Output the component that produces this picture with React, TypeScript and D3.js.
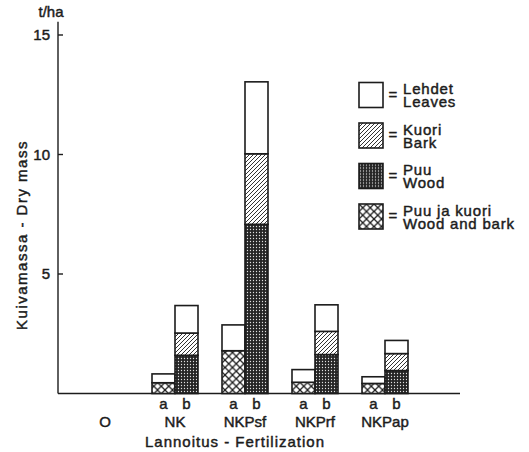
import React, { useEffect, useRef } from 'react'
import * as d3 from 'd3'

// fertilization groups, a / b sub-bars
const groups = ["O", "NK", "NKPsf", "NKPrf", "NKPap"]
const subLabels = ["a", "b"]
// a bars: wood and bark together + leaves (t/ha)
const woodBarkA = [0, 0.45, 1.79, 0.47, 0.42]
const leavesA = [0, 0.37, 1.08, 0.53, 0.28]
// b bars: wood, bark, leaves (t/ha)
const woodB = [0, 1.6, 7.08, 1.63, 0.96]
const barkB = [0, 0.93, 2.95, 0.97, 0.71]
const leavesB = [0, 1.15, 3.01, 1.11, 0.55]
const yTicks = [5, 10, 15]

const legendItems = [
    { key: "leaves", l1: "Lehdet", l2: "Leaves" },
    { key: "bark", l1: "Kuori", l2: "Bark" },
    { key: "wood", l1: "Puu", l2: "Wood" },
    { key: "woodbark", l1: "Puu ja kuori", l2: "Wood and bark" },
]

const ink = "#1c1c1c"
const font = "'Liberation Sans', Arial, sans-serif"

function fillFor(key: string) {
    if (key === "leaves") return "#fff"
    return "url(#p-" + key + ")"
}

function drawChart(el: SVGSVGElement) {
    const svg = d3.select(el)
    svg.selectAll("*").remove()

    const defs = svg.append("defs")
    const hatch = defs.append("pattern").attr("id", "p-bark")
        .attr("patternUnits", "userSpaceOnUse").attr("width", 4).attr("height", 4)
    hatch.append("rect").attr("width", 4).attr("height", 4).attr("fill", "#fff")
    hatch.append("path").attr("d", "M-1,1 l2,-2 M0,4 l4,-4 M3,5 l2,-2")
        .attr("stroke", ink).attr("stroke-width", 0.9)

    const dots = defs.append("pattern").attr("id", "p-wood")
        .attr("patternUnits", "userSpaceOnUse").attr("width", 3).attr("height", 3)
    dots.append("rect").attr("width", 3).attr("height", 3).attr("fill", "#252525")
    dots.append("circle").attr("cx", 1.5).attr("cy", 1.5).attr("r", 0.65).attr("fill", "#e0e0e0")

    const cs = 7.5
    const cross = defs.append("pattern").attr("id", "p-woodbark")
        .attr("patternUnits", "userSpaceOnUse").attr("width", cs).attr("height", cs)
    cross.append("rect").attr("width", cs).attr("height", cs).attr("fill", "#fff")
    cross.append("path").attr("d", `M0,0 L${cs},${cs} M${cs},0 L0,${cs}`)
        .attr("stroke", ink).attr("stroke-width", 1.3)

    const x = d3.scalePoint<string>().domain(groups).range([105, 385])
    const y = d3.scaleLinear().domain([0, 15]).range([393.5, 35])
    const barW = 23

    // axes
    svg.append("line").attr("x1", 58).attr("x2", 58).attr("y1", y(15.55)).attr("y2", y(0))
        .attr("stroke", ink).attr("stroke-width", 1.4)
    svg.append("line").attr("x1", 58).attr("x2", 460).attr("y1", y(0)).attr("y2", y(0))
        .attr("stroke", ink).attr("stroke-width", 1.6)
    const yt = svg.append("g").selectAll("g").data(yTicks).join("g")
        .attr("transform", d => "translate(0," + y(d) + ")")
    yt.append("line").attr("x1", 58).attr("x2", 63).attr("stroke", ink).attr("stroke-width", 1.4)
    yt.append("text").attr("x", 50).attr("dy", "0.36em").attr("text-anchor", "end")
        .attr("font-size", 15).text(d => d)

    // stacked bars
    const segs: { g: string, side: number, key: string, y0: number, y1: number }[] = []
    groups.forEach((g, i) => {
        let acc = 0
        ;[["woodbark", woodBarkA[i]], ["leaves", leavesA[i]]].forEach(([k, v]) => {
            if (+v > 0) segs.push({ g, side: 0, key: k as string, y0: acc, y1: acc + (v as number) })
            acc += v as number
        })
        acc = 0
        ;[["wood", woodB[i]], ["bark", barkB[i]], ["leaves", leavesB[i]]].forEach(([k, v]) => {
            if (+v > 0) segs.push({ g, side: 1, key: k as string, y0: acc, y1: acc + (v as number) })
            acc += v as number
        })
    })
    svg.append("g").selectAll("rect").data(segs).join("rect")
        .attr("x", d => (x(d.g) as number) - barW + d.side * barW)
        .attr("width", barW)
        .attr("y", d => y(d.y1))
        .attr("height", d => y(d.y0) - y(d.y1))
        .attr("fill", d => fillFor(d.key))
        .attr("stroke", ink).attr("stroke-width", 1.6)

    // x labels
    const xl = svg.append("g")
    groups.slice(1).forEach(g => {
        subLabels.forEach((s, j) => {
            xl.append("text").attr("x", (x(g) as number) - barW / 2 + j * barW).attr("y", 409)
                .attr("text-anchor", "middle").attr("font-size", 15).text(s)
        })
    })
    xl.selectAll("text.grp").data(groups).join("text").attr("class", "grp")
        .attr("x", d => x(d) as number).attr("y", 426.5)
        .attr("text-anchor", "middle").attr("font-size", 15).text(d => d)

    svg.append("text").attr("x", 235).attr("y", 447).attr("text-anchor", "middle")
        .attr("font-size", 15).attr("letter-spacing", 1).text("Lannoitus - Fertilization")
    svg.append("text").attr("transform", "translate(27,235) rotate(-90)")
        .attr("text-anchor", "middle").attr("font-size", 15).attr("letter-spacing", 1.5)
        .text("Kuivamassa - Dry mass")
    svg.append("text").attr("x", 51).attr("y", 17).attr("text-anchor", "middle")
        .attr("font-size", 15).text("t/ha")

    // legend
    const lg = svg.append("g").selectAll("g").data(legendItems).join("g")
        .attr("transform", (d, i) => "translate(359," + (82.5 + i * 40.5) + ")")
    lg.append("rect").attr("width", 24).attr("height", 25)
        .attr("fill", d => fillFor(d.key)).attr("stroke", ink).attr("stroke-width", 1.6)
    lg.append("text").attr("x", 34).attr("y", 17).attr("text-anchor", "middle")
        .attr("font-size", 15).text("=")
    const lt = lg.append("text").attr("font-size", 15).attr("letter-spacing", 0.8)
    lt.append("tspan").attr("x", 44).attr("y", 11.5).text(d => d.l1)
    lt.append("tspan").attr("x", 44).attr("y", 24.5).text(d => d.l2)

    svg.selectAll("text").attr("fill", ink).attr("font-family", font)
        .attr("stroke", ink).attr("stroke-width", 0.45)
}

const App = () => {
    const ref = useRef<SVGSVGElement>(null)
    useEffect(() => {
        if (ref.current) drawChart(ref.current)
    })
    return (
        <svg ref={ref} width={529} height={452}
            style={{ position: 'absolute', left: 0, top: 0, background: '#fff' }}></svg>
    )
}

export default App
